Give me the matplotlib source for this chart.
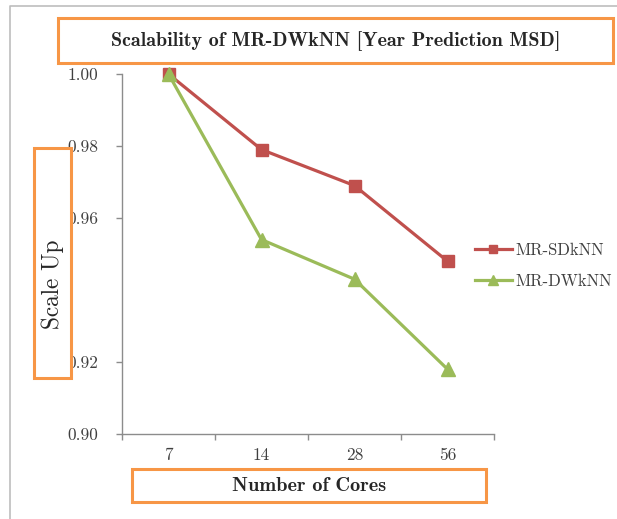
import matplotlib
matplotlib.use("Agg")
import matplotlib.pyplot as plt
from matplotlib.patches import Rectangle
from matplotlib.lines import Line2D

cores = ['7', '14', '28', '56']
mr_sdknn = [1.000, 0.979, 0.969, 0.948]
mr_dwknn = [1.000, 0.954, 0.943, 0.918]
y_ticks = [0.90, 0.92, 0.96, 0.98, 1.00]

W, H = 617, 519
red = '#c0504d'
green = '#9bbb59'
orange = '#f79646'
txt = '#404040'

plt.rcParams['font.family'] = ['cmr10', 'DejaVu Serif']
plt.rcParams['axes.formatter.use_mathtext'] = True

fig = plt.figure(figsize=(W / 100, H / 100), dpi=100)
ax = fig.add_axes([122 / W, 1 - 434 / H, (494 - 122) / W, (434 - 74) / H])

x = list(range(len(cores)))
ax.plot(x, mr_sdknn, color=red, lw=2.3, marker='s', ms=9, label='MR-SDkNN', clip_on=False)
ax.plot(x, mr_dwknn, color=green, lw=2.3, marker='^', ms=9.5, label='MR-DWkNN', clip_on=False)

ax.set_xlim(-0.5, len(cores) - 0.5)
ax.set_ylim(0.90, 1.00)
ax.set_yticks(y_ticks)
ax.set_yticklabels(['%.2f' % v for v in y_ticks])
ax.set_xticks(x)
ax.set_xticklabels(cores)
ax.set_xticks([i - 0.5 for i in range(len(cores) + 1)], minor=True)

for s in ['top', 'right']:
    ax.spines[s].set_visible(False)
for s in ['left', 'bottom']:
    ax.spines[s].set_color('#8c8c8c')
    ax.spines[s].set_linewidth(1.0)

ax.tick_params(axis='y', direction='out', length=4, width=1, color='#8c8c8c',
               labelsize=12.5, labelcolor=txt, pad=13)
ax.tick_params(axis='x', which='major', length=0, labelsize=12.5, labelcolor=txt, pad=10)
ax.tick_params(axis='x', which='minor', direction='out', length=4, width=1, color='#8c8c8c')

leg = ax.legend(loc='center left', bbox_to_anchor=(475 / W, 1 - 266 / H),
                bbox_transform=fig.transFigure, frameon=False, borderaxespad=0,
                borderpad=0, handlelength=2.2, handletextpad=0.2, labelspacing=0.95,
                markerscale=0.7, prop={'family': 'cmr10', 'size': 12})
for t in leg.get_texts():
    t.set_color(txt)

# orange boxes round the titles
def box(x0, y0, x1, y1):
    fig.patches.append(Rectangle((x0 / W, 1 - y1 / H), (x1 - x0) / W, (y1 - y0) / H,
                                 transform=fig.transFigure, fill=True, facecolor='white',
                                 edgecolor=orange, lw=2.2, zorder=5))

box(58, 18, 613, 63)
box(34, 148, 71, 378)
box(132, 469, 486, 502)

fig.text(336 / W, 1 - 41 / H, 'Scalability of MR-DWkNN [Year Prediction MSD]',
         family='cmb10', fontsize=14.4, color='#262626', ha='center', va='center', zorder=6)
fig.text(309 / W, 1 - 486 / H, 'Number of Cores', family='cmb10', fontsize=14.6,
         color='#262626', ha='center', va='center', zorder=6)
fig.text(53 / W, 1 - 284 / H, 'Scale Up', family='cmr10', fontsize=16.8, color='#262626',
         rotation=90, ha='center', va='center', zorder=6)

# grey frame on top and left
fig.lines.append(Line2D([10 / W, 10 / W, 1], [0, 1 - 6 / H, 1 - 6 / H],
                        transform=fig.transFigure, color='#bdbdbd', lw=1.2))

fig.savefig('out.png', dpi=100, facecolor='white')
